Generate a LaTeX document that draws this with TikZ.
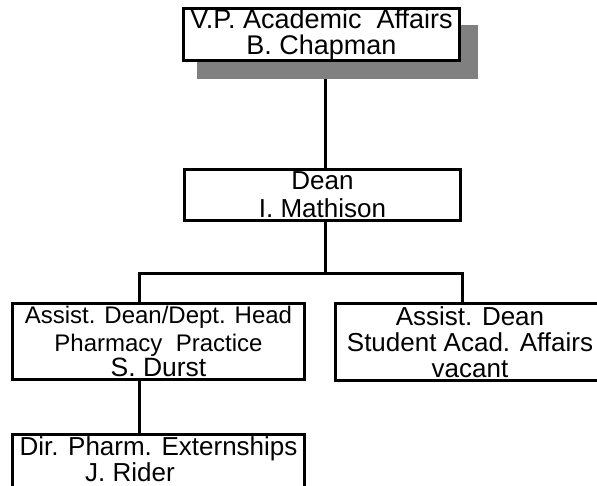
\documentclass[tikz,border=0pt]{standalone}
\usepackage{fontspec}
\setmainfont{Liberation Sans}
\pgfdeclarelayer{bg}
\pgfdeclarelayer{shade}
\pgfsetlayers{bg,shade,main}
\definecolor{shadowgray}{RGB}{128,128,128}
\newcommand{\fsmall}{\fontsize{24}{26}\selectfont}
\newcommand{\fnormal}{\fontsize{26.5}{26}\selectfont}
\begin{document}
\begin{tikzpicture}[x=1pt,y=-1pt,
  box/.style={draw=black, line width=3pt, fill=white, align=center,
    inner sep=0pt, outer sep=0pt, font=\fontsize{26}{26}\selectfont},
  txt/.style={align=center, inner sep=0pt, font=\fontsize{26}{26}\selectfont},
  conn/.style={draw=black, line width=3pt, line join=miter}]
\useasboundingbox (0,0) rectangle (597,486);

% boxes
\node[box, minimum width=276, minimum height=52, font=\fontsize{27}{26}\selectfont] (vp) at (321.5,34.5)
  {V.P. Academic\ \ Affairs\\B. Chapman};
\node[box, minimum width=276, minimum height=51] (dean) at (322.5,195)
  {Dean\\[2pt]I. Mathison};
\node[box, minimum width=292, minimum height=76] (asst) at (158.5,341.5)
  {{\fsmall Assist. Dean/Dept. Head}\\[2pt]{\fsmall Pharmacy\ \ Practice}\\[-1pt]{\fnormal S. Durst}};
\node[box, minimum width=269, minimum height=77] (sa) at (470,342)
  {Assist. Dean\\Student Acad. Affairs\\vacant};
\node[box, minimum width=292, minimum height=80, anchor=north] (dir) at (158.5,434.5) {};
\node[txt, anchor=north] (dirtext) at (dir.north) [yshift=-2pt]
  {Dir. Pharm. Externships\\J. Rider\hspace*{57pt}};

% shadow
\begin{pgfonlayer}{shade}
  \fill[shadowgray] ([xshift=13.5pt,yshift=-16.5pt]vp.north west) rectangle ([xshift=18.5pt,yshift=-18.5pt]vp.south east);
\end{pgfonlayer}

% connectors
\coordinate (bus) at (325,274);
\coordinate (vpS) at ([xshift=3.5pt]vp.south);
\coordinate (deanN) at ([xshift=2.5pt]dean.north);
\coordinate (deanS) at ([xshift=2.5pt]dean.south);
\coordinate (aN) at ([xshift=-19.5pt]asst.north);
\coordinate (aS) at ([xshift=-19.5pt]asst.south);
\coordinate (sN) at ([xshift=-8pt]sa.north);
\coordinate (dN) at ([xshift=-19.5pt]dir.north);
\begin{pgfonlayer}{bg}
  \draw[conn] (vpS) -- (deanN);
  \draw[conn] (deanS) -- (bus);
  \draw[conn] (aN) -- (aN |- bus) -- (sN |- bus) -- (sN);
  \draw[conn] (aS) -- (dN);
\end{pgfonlayer}
\end{tikzpicture}
\end{document}
